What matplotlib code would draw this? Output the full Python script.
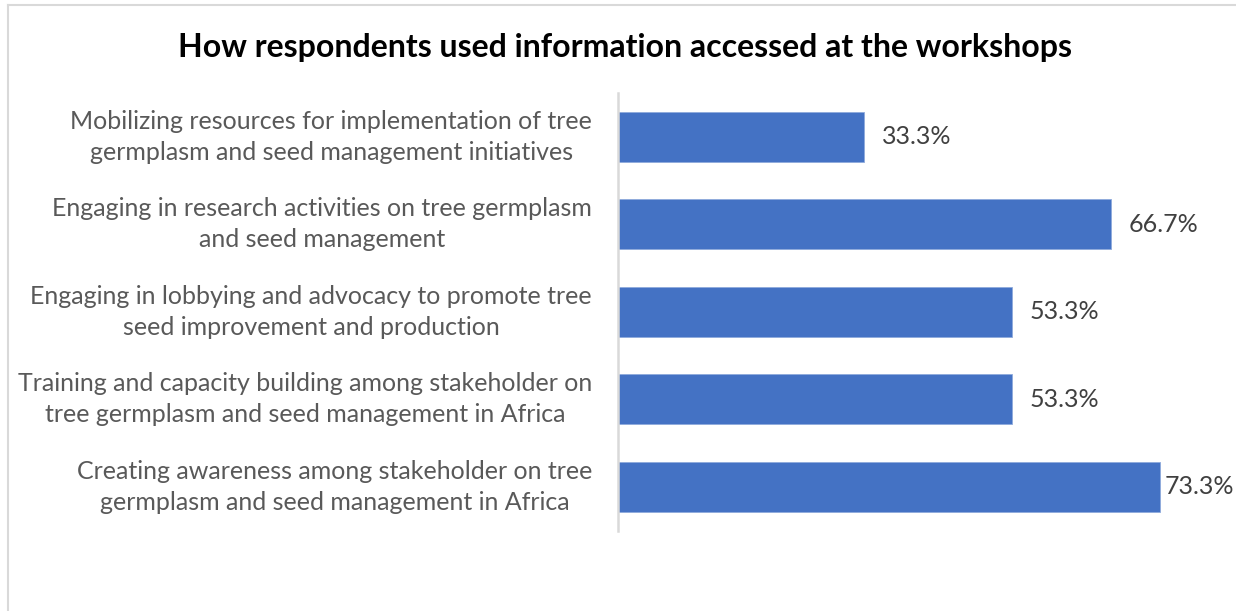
import matplotlib
matplotlib.use("Agg")
import matplotlib.pyplot as plt
from matplotlib.lines import Line2D

plt.rcParams['font.family'] = ['Lato', 'DejaVu Sans']

title = "How respondents used information accessed at the workshops"
categories = [
    "Mobilizing resources for implementation of tree\ngermplasm and seed management initiatives",
    "Engaging in research activities on tree germplasm\nand seed management",
    "Engaging in lobbying and advocacy to promote tree\nseed improvement and production",
    "Training and capacity building among stakeholder on\ntree germplasm and seed management in Africa",
    "Creating awareness among stakeholder on tree\ngermplasm and seed management in Africa",
]
values = [33.3, 66.7, 53.3, 53.3, 73.3]
xmax = 80

W, H = 1236, 611
fig = plt.figure(figsize=(W / 100, H / 100), dpi=100)
ax = fig.add_axes([618 / W, 1 - 530.5 / H, (1209 - 618) / W, (530.5 - 93) / H])

ypos = list(range(len(categories)))
ax.barh(ypos, values, height=0.57, color="#4472C4", edgecolor="#8FAADC", linewidth=0.6)
ax.set_xlim(0, xmax)
ax.set_ylim(len(categories) - 0.5, -0.5)
ax.set_yticks(ypos)
ax.set_yticklabels(categories, fontsize=18, color="#595959", linespacing=1.4, va="center")
for lbl in ax.get_yticklabels():
    lbl.set_multialignment("center")
ax.tick_params(axis="y", length=0, pad=26 * 0.72)
ax.tick_params(axis="x", bottom=False, labelbottom=False)
for s in ["top", "right", "bottom"]:
    ax.spines[s].set_visible(False)
ax.spines["left"].set_color("#D9D9D9")
ax.spines["left"].set_linewidth(1.8)

for y, v in zip(ypos, values):
    off = 18 if v / xmax < 0.9 else 5
    ax.annotate(f"{v:.1f}%", xy=(v, y), xytext=(off * 0.72, 0), textcoords="offset points",
                ha="left", va="center", fontsize=18, color="#404040")

fig.text(625 / W, 1 - 48 / H, title, ha="center", va="center", fontsize=23,
         fontweight="bold", color="black")

# chart area border (left and top visible)
fig.add_artist(Line2D([7.5 / W, 7.5 / W], [0, 1 - 4.5 / H], color="#D9D9D9", lw=1.5, transform=fig.transFigure))
fig.add_artist(Line2D([7.5 / W, 1], [1 - 4.5 / H, 1 - 4.5 / H], color="#D9D9D9", lw=1.5, transform=fig.transFigure))

fig.savefig("out.png", dpi=100)
